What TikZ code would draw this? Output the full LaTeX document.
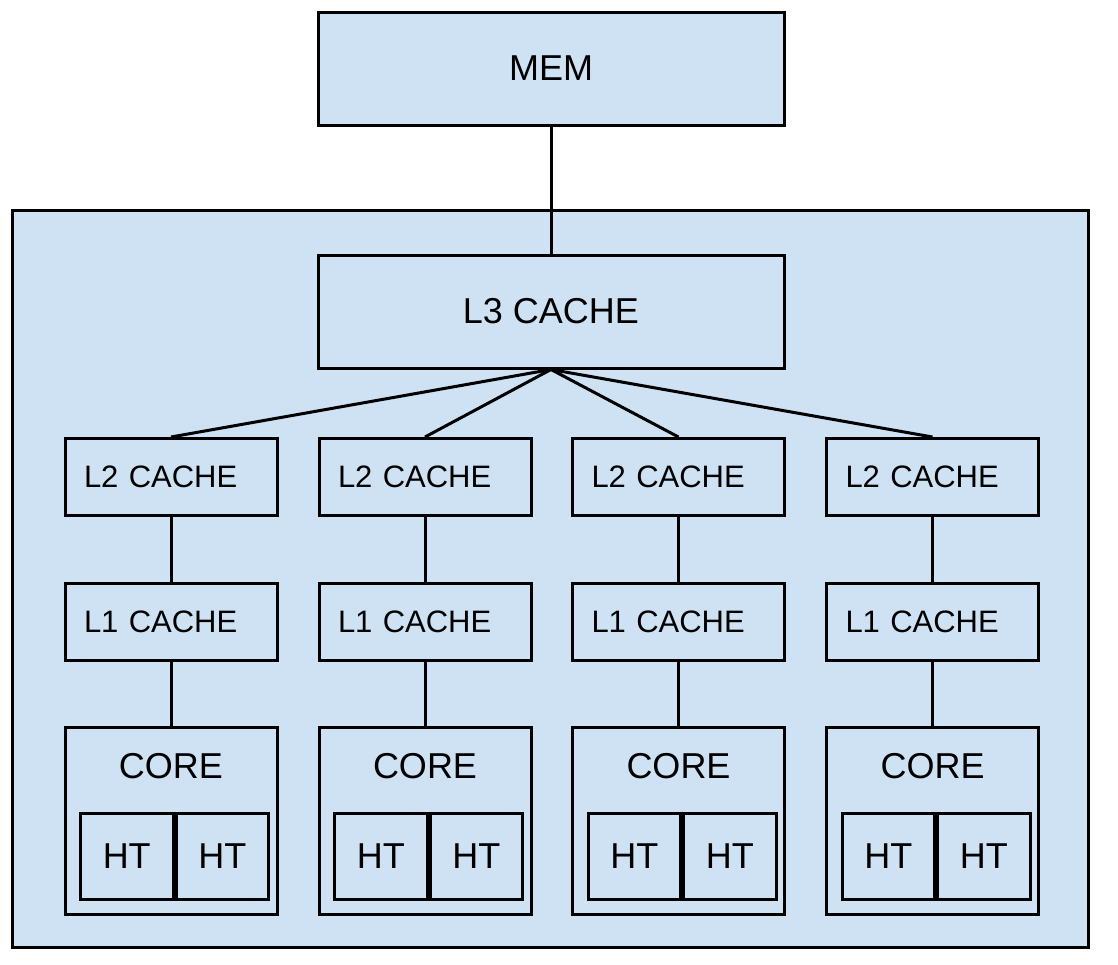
\documentclass[tikz,border=0pt]{standalone}
\usepackage{fontspec}
\setmainfont{Liberation Sans}
\definecolor{boxblue}{HTML}{CFE2F3}
\begin{document}
\begin{tikzpicture}[x=1pt,y=-1pt,line width=3pt,
  box/.style={draw,fill=boxblue,inner sep=0pt,font=\fontsize{36}{40}\selectfont},
  bigbox/.style={box,minimum width=466pt,minimum height=113pt},
  cache/.style={box,minimum width=212pt,minimum height=77pt,text width=174pt,
    align=left,inner xsep=19pt,font=\fontsize{31}{36}\selectfont},
  corebox/.style={box,minimum width=212pt,minimum height=187pt},
  htbox/.style={box,minimum width=92.5pt,minimum height=86pt}]
\useasboundingbox (0,0) rectangle (1118,964);

\node[box,minimum width=1076pt,minimum height=737pt] (chip) at (550,578.5) {};
\node[bigbox] (mem) at (551,68.5) {MEM};
\node[bigbox] (l3) at (551,311.5) {L3 CACHE};
\draw (mem.south) -- (l3.north);

\foreach \i/\x in {1/171,2/425,3/678.5,4/932.5}
{
   \node[cache,anchor=north] (l2\i) at (\x,437) {L2 CACHE};
   \node[cache,anchor=north] (l1\i) at (\x,582) {L1 CACHE};
   \node[corebox,anchor=north] (core\i) at (\x,726) {};
   \node (corelabel\i) at ([yshift=-40.5pt]core\i.north) {\fontsize{36}{40}\selectfont CORE};
   \node[htbox,anchor=north east] (hta\i) at ([xshift=3.5pt,yshift=-86pt]core\i.north) {HT};
   \node[htbox,anchor=north west] (htb\i) at (hta\i.north east) {HT};
   \draw (l3.south) -- (l2\i.north);
   \draw (l2\i) -- (l1\i);
   \draw (l1\i) -- (core\i);
}

\end{tikzpicture}
\end{document}
